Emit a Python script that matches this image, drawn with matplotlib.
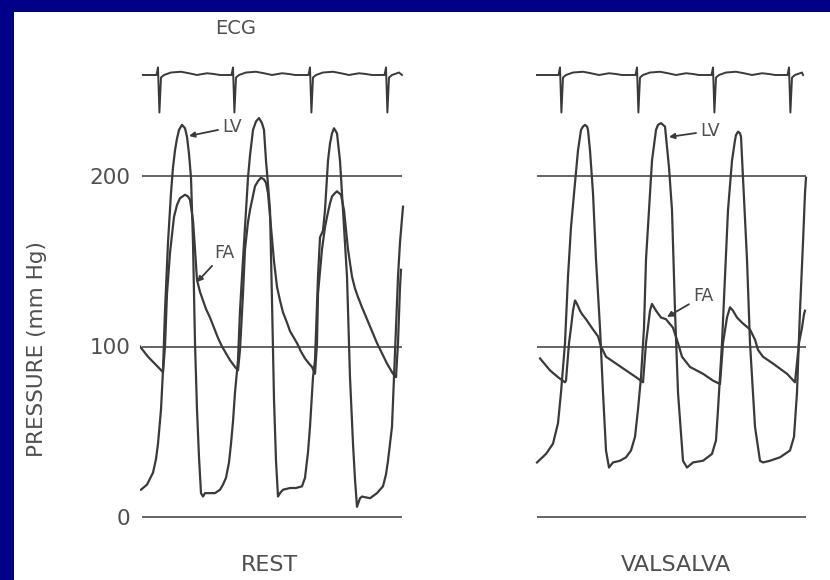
import numpy as np
import matplotlib
matplotlib.use("Agg")
import matplotlib.pyplot as plt
from matplotlib.patches import Rectangle

# ---------------------------------------------------------------------------
# Pressure traces (time in ms, pressure in mm Hg)
# ---------------------------------------------------------------------------
rest_lv_t = [10, 70, 130, 160, 180, 210, 230, 250, 280, 310, 330, 350, 370, 390,
             420, 450, 470, 490, 510, 530, 550, 570, 590, 610, 630, 650, 750, 800,
             830, 860, 890, 910, 930, 950, 980, 1000, 1030, 1050, 1080, 1100, 1130,
             1160, 1190, 1220, 1240, 1260, 1280, 1300, 1320, 1340, 1360, 1380, 1400,
             1430, 1500, 1560, 1620, 1650, 1680, 1700, 1730, 1750, 1780, 1800, 1830,
             1850, 1880, 1900, 1920, 1940, 1970, 2000, 2030, 2070, 2100, 2130, 2150,
             2170, 2200, 2220, 2300, 2370, 2430, 2460, 2480, 2520, 2540, 2560, 2580,
             2600, 2630]
rest_lv_p = [16, 19, 26, 34, 43, 63, 86, 121, 161, 190, 205, 215, 222, 227,
             230, 228, 223, 213, 199, 161, 102, 63, 35, 14, 12, 14, 14, 16,
             19, 23, 32, 43, 56, 73, 92, 121, 151, 170, 199, 212, 227,
             232, 234, 231, 227, 209, 195, 180, 127, 69, 33, 12, 14,
             16, 17, 17, 18, 23, 38, 53, 82, 92, 141, 164, 168,
             180, 209, 219, 225, 228, 225, 209, 180, 141, 82, 43, 22,
             6, 11, 12, 11, 14, 18, 25, 33, 53, 82, 111, 141,
             161, 182]

rest_fa_t = [0, 40, 80, 130, 180, 230, 250, 270, 300, 340, 370, 400, 450, 480,
             500, 530, 550, 570, 600, 630, 660, 700, 740, 780, 820, 860, 900, 950,
             980, 1000, 1030, 1050, 1080, 1100, 1150, 1180, 1210, 1240, 1260, 1280,
             1310, 1340, 1370, 1400, 1430, 1470, 1500, 1540, 1570, 1610, 1650, 1690,
             1720, 1750, 1770, 1780, 1820, 1850, 1870, 1900, 1920, 1950, 1970, 2010,
             2040, 2080, 2120, 2150, 2180, 2220, 2270, 2320, 2370, 2420, 2470, 2530,
             2560, 2580, 2600, 2610]
rest_fa_p = [100, 97, 94, 91, 88, 85, 100, 131, 155, 176, 183, 187, 189, 188,
             186, 174, 157, 139, 132, 127, 122, 117, 111, 105, 100, 96, 92, 88,
             86, 98, 131, 157, 173, 180, 194, 197, 199, 198, 196, 190,
             170, 150, 135, 127, 120, 114, 109, 105, 102, 97, 93, 90,
             88, 84, 102, 131, 157, 170, 176, 184, 188, 190, 191, 189,
             180, 157, 141, 134, 129, 123, 116, 109, 102, 96, 90, 84,
             82, 102, 135, 145]

vals_lv_t = [20, 110, 180, 230, 260, 300, 330, 360, 400, 430, 460, 480, 500, 520,
             530, 550, 580, 610, 650, 680, 710, 740, 780, 850, 910, 960, 1000, 1030,
             1060, 1090, 1110, 1140, 1170, 1210, 1230, 1260, 1280, 1300, 1340, 1370,
             1400, 1430, 1480, 1520, 1580, 1680, 1770, 1810, 1830, 1870, 1900, 1930,
             1970, 2000, 2010, 2030, 2050, 2060, 2080, 2120, 2150, 2200, 2250, 2280,
             2350, 2450, 2550, 2590, 2620, 2650, 2680, 2700, 2710]
vals_lv_p = [32, 37, 43, 55, 73, 102, 141, 170, 196, 215, 227, 229, 230, 229,
             227, 215, 190, 151, 111, 73, 39, 29, 32, 33, 35, 39, 47, 63,
             82, 111, 151, 180, 209, 227, 230, 231, 230, 229, 205, 180,
             121, 73, 33, 29, 32, 33, 37, 45, 63, 102, 141, 180,
             209, 221, 224, 226, 225, 223, 199, 151, 102, 53, 33, 32,
             33, 35, 39, 47, 73, 121, 161, 190, 199]

vals_fa_t = [50, 150, 230, 300, 310, 340, 360, 380, 400, 420, 450, 470, 510, 580,
             630, 660, 710, 810, 910, 1010, 1080, 1110, 1150, 1170, 1210, 1260, 1310,
             1380, 1430, 1470, 1550, 1680, 1780, 1850, 1880, 1920, 1950, 1980, 2020,
             2070, 2150, 2200, 2230, 2280, 2380, 2520, 2600, 2640, 2670, 2690, 2700]
vals_fa_p = [93, 86, 82, 79, 80, 102, 111, 121, 127, 125, 121, 119, 116, 110,
             106, 100, 94, 90, 86, 82, 79, 102, 121, 125, 121, 117, 116,
             111, 102, 94, 88, 84, 80, 78, 102, 117, 123, 121, 117,
             114, 110, 104, 98, 94, 90, 84, 79, 102, 111, 119, 121]

# Reference pressure levels and the span over which they are ruled
ref_levels = [0, 100, 200]
rest_span = (20, 2620)
vals_span = (20, 2710)

# ---------------------------------------------------------------------------
# ECG: one PQRST complex (ms relative to R, mV) and the R-wave times
# ---------------------------------------------------------------------------
ecg_dt = [-70, -15, 0, 14, 30, 60, 130, 230, 310, 390, 490, 560, 620]
ecg_mv = [0.0, 0.0, 0.3, -1.5, -0.1, 0.0, 0.1, 0.13, 0.07, 0.0, 0.07, 0.04, 0.0]
rest_r_times = [180, 930, 1700, 2460]
vals_r_times = [250, 1020, 1780, 2540]
rest_ecg_span = (30, 2620)
vals_ecg_span = (20, 2680)

# ---------------------------------------------------------------------------
W, H = 830, 580
NAVY = "#000088"
INK = "#3a3a3a"
TXT = "#4f4f4f"
plt.rcParams["font.family"] = ["DejaVu Sans"]

fig = plt.figure(figsize=(W / 100, H / 100), dpi=100, facecolor=NAVY)
fig.patches.append(Rectangle((14 / W, 0), 1 - 14 / W, 1 - 12 / H,
                             transform=fig.transFigure, facecolor="white",
                             edgecolor="none", zorder=-5))


def place(left, right, top, bottom):
    ax = fig.add_axes([left / W, 1 - bottom / H, (right - left) / W, (bottom - top) / H])
    ax.set_facecolor("none")
    for s in ax.spines.values():
        s.set_visible(False)
    return ax


# pixel layout of the pressure scale: 0 mmHg row and 200 mmHg row
y0_px, y200_px = 517, 176
ppm = (y0_px - y200_px) / 200.0
top_px, bot_px = 105, 545
ylims = (-(bot_px - y0_px) / ppm, (y0_px - top_px) / ppm)


def pressure_panel(left, right, xmax, span, lv_t, lv_p, fa_t, fa_p, ticks):
    ax = place(left, right, top_px, bot_px)
    ax.set_xlim(0, xmax)
    ax.set_ylim(*ylims)
    ax.set_xticks([])
    if ticks:
        ax.set_yticks(ref_levels)
        ax.set_yticklabels([str(v) for v in ref_levels], fontsize=15.5, color=TXT)
        ax.tick_params(axis="y", length=0, pad=7)
    else:
        ax.set_yticks([])
    ax.hlines(ref_levels, span[0], span[1], color="#4a4a4a", lw=1.2, zorder=1)
    ax.plot(lv_t, lv_p, color=INK, lw=1.6, solid_joinstyle="round", zorder=3)
    ax.plot(fa_t, fa_p, color=INK, lw=1.6, solid_joinstyle="round", zorder=3)
    return ax


def ecg_panel(left, right, xmax, r_times, span):
    ax = place(left, right, 55, 125)
    ax.set_xlim(0, xmax)
    ax.set_ylim(-2.0, 0.8)
    ax.set_xticks([])
    ax.set_yticks([])
    t = [span[0]]
    v = [0.0]
    for r in r_times:
        for d, m in zip(ecg_dt, ecg_mv):
            if span[0] < r + d < span[1]:
                t.append(r + d)
                v.append(m)
    t.append(span[1])
    v.append(0.0)
    ax.plot(t, v, color=INK, lw=1.4, solid_joinstyle="round")
    return ax


ax_rest = pressure_panel(140, 410, 2700, rest_span, rest_lv_t, rest_lv_p,
                         rest_fa_t, rest_fa_p, True)
ax_vals = pressure_panel(535, 815, 2800, vals_span, vals_lv_t, vals_lv_p,
                         vals_fa_t, vals_fa_p, False)
ecg_panel(140, 410, 2700, rest_r_times, rest_ecg_span)
ecg_panel(535, 815, 2800, vals_r_times, vals_ecg_span)

arrow = dict(arrowstyle="-|>", color=INK, lw=1.3, mutation_scale=8,
             shrinkA=1, shrinkB=0)
lab = dict(fontsize=12.5, color=TXT, ha="center", va="center")
ax_rest.annotate("LV", xy=(490, 223.5), xytext=(920, 228.7), arrowprops=arrow, **lab)
ax_rest.annotate("FA", xy=(570, 137.8), xytext=(840, 154.8), arrowprops=arrow, **lab)
ax_vals.annotate("LV", xy=(1340, 222.9), xytext=(1750, 226.4), arrowprops=arrow, **lab)
ax_vals.annotate("FA", xy=(1320, 117.3), xytext=(1680, 129.6), arrowprops=arrow, **lab)

fig.text(236 / W, 1 - 29 / H, "ECG", fontsize=14, color=TXT, ha="center", va="center")
fig.text(37 / W, 1 - 349 / H, "PRESSURE (mm Hg)", fontsize=15.5, color=TXT,
         rotation=90, ha="center", va="center")
fig.text(269 / W, 1 - 565 / H, "REST", fontsize=16, color=TXT, ha="center", va="center")
fig.text(676 / W, 1 - 565 / H, "VALSALVA", fontsize=16, color=TXT, ha="center", va="center")

fig.savefig("out.png", dpi=100, facecolor=NAVY)
